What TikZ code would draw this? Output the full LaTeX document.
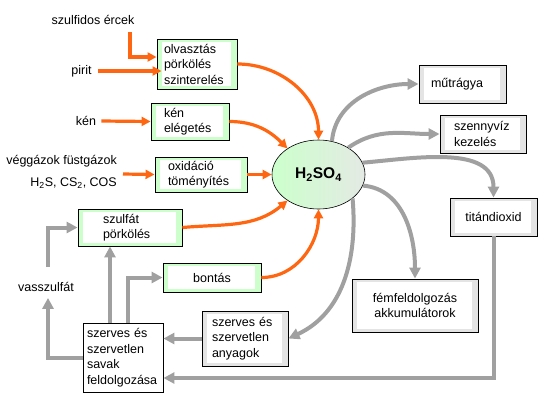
\documentclass[tikz,border=0pt]{standalone}
\usepackage{fontspec}
\setmainfont{Liberation Sans}
\usetikzlibrary{arrows.meta,shapes.geometric}
\definecolor{orng}{RGB}{255,102,17}
\definecolor{grarr}{RGB}{160,160,160}
\definecolor{lgreen}{RGB}{204,255,204}
\definecolor{lgray}{RGB}{228,228,228}
\definecolor{egray}{RGB}{228,234,228}
\begin{document}
\begin{tikzpicture}[x=1pt,y=1pt,
  font=\fontsize{12.5}{15.5}\selectfont,
  inwhite/.style={path picture={\fill[white] ([shift={(5pt,-3pt)}]path picture bounding box.north west) rectangle ([shift={(-6pt,3pt)}]path picture bounding box.south east);}},
  gbox/.style={draw, line width=0.9pt, fill=lgreen, inwhite, align=left, inner ysep=2pt},
  grbox/.style={draw, line width=0.9pt, fill=lgray, inwhite, align=left, inner ysep=2pt},
  wbox/.style={draw, line width=0.9pt, fill=white, align=left, inner ysep=2pt},
  lbl/.style={inner sep=1pt},
  oarr/.style={-{Triangle[length=9pt,width=9pt]}, line width=3.2pt, orng},
  garr/.style={-{Triangle[length=11pt,width=11pt]}, line width=4pt, grarr}
]
\useasboundingbox (0,0) rectangle (554,-408);
\node[lbl] (szulf) at (93,-20) {szulfidos ércek};
\node[lbl] (pirit) at (81.5,-71) {pirit};
\node[lbl] (ken) at (86,-121) {kén};
\node[lbl, anchor=east] (gas1) at (118,-161) {véggázok füstgázok};
\node[lbl, anchor=east] (gas2) at (118,-183) {H\textsubscript{2}S, CS\textsubscript{2}, COS};
\node[lbl] (vas) at (46,-287) {vasszulfát};
\coordinate (s1) at (130,-32);
\coordinate (g1) at (123,-174);

\node[gbox, inner xsep=7pt, text width=66pt, minimum height=50pt] (olv) at (197,-64) {olvasztás\\pörkölés\\szinterelés};
\node[gbox, inner xsep=13pt, text width=52pt, minimum height=37pt] (kenbox) at (190,-121.5) {kén\\elégetés};
\node[gbox, inner xsep=13pt, text width=66pt, minimum height=35pt] (oxi) at (201,-174.5) {oxidáció\\töményítés};
\node[gbox, inner xsep=25pt, text width=54pt, minimum height=37pt] (szpork) at (130,-227.5) {szulfát\\pörkölés};
\node[gbox, align=center, minimum width=98pt, minimum height=29pt] (bontas) at (212,-277.5) {bontás};
\node[wbox, inner xsep=4pt, text width=72pt, minimum height=69pt] (savak) at (123,-357.5) {szerves és\\szervetlen\\savak\\feldolgozása};
\node[grbox, inner xsep=10pt, text width=66pt, minimum height=55pt] (anyag) at (245,-338.5) {szerves és\\szervetlen\\anyagok};

\node[draw, line width=0.6pt, ellipse, left color=lgreen, right color=egray, minimum width=93pt, minimum height=69pt, inner sep=0pt, font=\bfseries\fontsize{15.5}{17}\selectfont] (acid) at (318.5,-174.5) {H\textsubscript{2}SO\textsubscript{4}};

\node[grbox, inner xsep=12pt, text width=63pt, minimum height=38pt] (mutr) at (462.5,-84) {műtrágya};
\node[grbox, inner xsep=14pt, text width=58pt, minimum height=38pt] (szenny) at (483,-134) {szennyvíz\\kezelés};
\node[grbox, align=center, minimum width=87pt, minimum height=38pt] (tio) at (493.5,-217) {titándioxid};
\node[grbox, align=center, minimum width=126pt, minimum height=53pt] (fem) at (415,-305.5) {fémfeldolgozás\\akkumulátorok};

\draw[oarr] (s1) |- ([yshift=7pt]olv.west);
\draw[oarr] ([xshift=5pt]pirit.east) -- ([xshift=5pt]pirit.east -| olv.west);
\draw[oarr] ([xshift=4pt]ken.east) -- (kenbox.west);
\draw[oarr] (g1) -- (oxi.west);
\draw[oarr] (olv.east) to[out=0,in=90] (acid.north);
\draw[oarr] (kenbox.east) to[out=0,in=135] (acid.140);
\draw[oarr] (oxi.east) -- (acid.west);
\draw[oarr] (szpork.east) to[out=5,in=220] (acid.220);
\draw[oarr] (bontas.east) to[out=0,in=-90] (acid.south);

\draw[garr] (acid.68) to[out=85,in=180] (mutr.west);
\draw[garr] (acid.42) to[out=35,in=180] (szenny.west);
\draw[garr] (acid.15) to[out=5,in=90] (tio.north);
\draw[garr] (acid.-14) to[out=-5,in=90] (fem.north);
\draw[garr] (acid.-35) to[out=-85,in=25] (anyag.east);
\draw[garr] (tio.south) |- ([yshift=-20.5pt]savak.east);
\draw[garr] (anyag.west) -- (anyag.west -| savak.east);
\draw[garr] (savak.west) -| ([shift={(2pt,-5pt)}]vas.south);
\draw[garr] ([shift={(2pt,14pt)}]vas.north) |- (szpork.west);
\draw[garr] ([xshift=-13pt]savak.north) -- ([xshift=-13pt]savak.north |- szpork.south);
\draw[garr] ([xshift=5pt]savak.north) |- (bontas.west);
\end{tikzpicture}
\end{document}
